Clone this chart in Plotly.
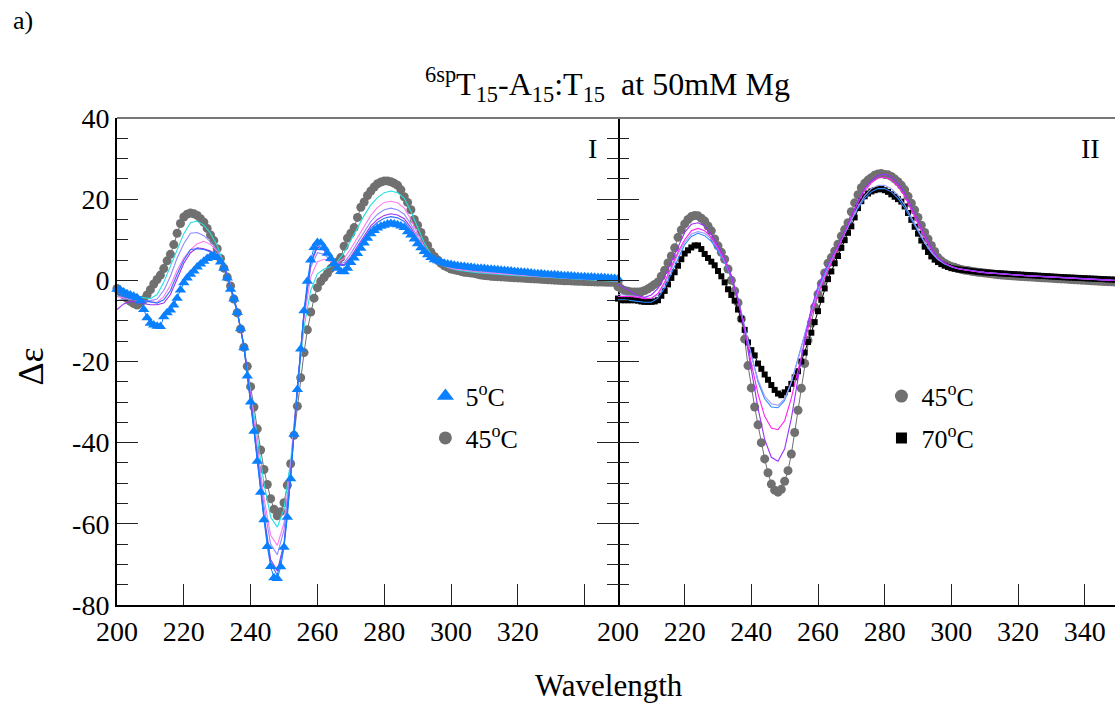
import plotly.graph_objects as go

# Wavelength grids (nm)
wavelength = list(range(200, 351))        # 1 nm sampling for marker series
wavelength_2nm = list(range(200, 351, 2))  # 2 nm sampling for the intermediate temperature curves

# ---------------- Panel I : 5 C -> 45 C ----------------
de_5C = [
    -2.2, -2.4, -2.9, -3.3, -3.6, -3.9, -4.3, -5.0, -7.2, -9.2,
    -10.6, -11.0, -11.3, -11.4, -9.0, -8.0, -7.3, -6.1, -4.4, -2.4,
    -0.6, 0.6, 1.5, 2.3, 3.3, 4.0, 4.7, 5.4, 5.9, 6.1,
    5.6, 4.5, 3.0, 0.6, -2.2, -4.6, -7.9, -11.9, -16.6, -23.6,
    -30.0, -37.2, -44.6, -52.2, -59.0, -65.6, -70.5, -73.3, -73.5, -70.6,
    -65.8, -58.4, -48.9, -37.9, -26.9, -16.9, -7.5, -0.2, 5.0, 8.1,
    9.3, 9.2, 8.0, 6.7, 5.4, 4.1, 3.0, 2.2, 2.1, 3.0,
    4.4, 5.5, 6.6, 7.9, 9.2, 10.4, 11.5, 12.3, 12.9, 13.3,
    13.6, 13.9, 14.0, 13.9, 13.7, 13.4, 13.0, 12.0, 11.2, 10.2,
    9.0, 8.0, 7.1, 6.3, 5.6, 5.1, 4.8, 4.5, 4.2, 4.0,
    3.9, 3.7, 3.6, 3.5, 3.4, 3.3, 3.2, 3.1, 3.0, 2.95,
    2.9, 2.8, 2.75, 2.7, 2.6, 2.5, 2.45, 2.35, 2.3, 2.2,
    2.1, 2.05, 2.0, 1.9, 1.8, 1.7, 1.65, 1.6, 1.5, 1.45,
    1.4, 1.35, 1.3, 1.2, 1.15, 1.1, 1.05, 1.0, 0.95, 0.9,
    0.9, 0.85, 0.8, 0.75, 0.7, 0.7, 0.65, 0.6, 0.5, 0.45,
    0.4,
]

de_45C_I = [
    -2.0, -2.8, -3.6, -4.5, -5.2, -5.7, -6.1, -5.6, -4.8, -3.6,
    -2.3, -0.9, 0.2, 1.3, 2.9, 4.8, 6.4, 8.8, 11.6, 14.0,
    15.6, 16.3, 16.6, 16.4, 16.0, 15.2, 14.3, 12.8, 11.2, 9.8,
    7.8, 5.4, 3.0, 0.8, -1.4, -4.6, -8.0, -12.0, -16.5, -21.2,
    -26.2, -31.2, -36.6, -41.8, -46.6, -50.3, -53.8, -56.4, -58.0, -57.0,
    -54.8, -50.5, -45.2, -38.2, -31.0, -24.0, -17.8, -12.2, -7.8, -4.4,
    -1.8, -0.3, 0.7, 1.7, 2.9, 3.8, 4.5, 5.6, 8.4, 10.4,
    11.6, 13.0, 15.5, 18.0, 19.3, 20.9, 22.0, 23.0, 23.8, 24.2,
    24.5, 24.5, 24.3, 23.9, 23.4, 22.3, 20.6, 19.2, 17.4, 15.0,
    13.6, 11.8, 10.0, 8.6, 7.0, 5.9, 5.0, 4.2, 3.6, 3.2,
    2.8, 2.6, 2.4, 2.2, 2.0, 1.9, 1.8, 1.7, 1.5, 1.3,
    1.2, 1.1, 1.0, 0.95, 0.9, 0.85, 0.8, 0.75, 0.7, 0.65,
    0.6, 0.55, 0.5, 0.45, 0.4, 0.35, 0.3, 0.25, 0.2, 0.15,
    0.1, 0.05, 0.0, -0.05, -0.1, -0.12, -0.15, -0.2, -0.22, -0.25,
    -0.3, -0.32, -0.35, -0.38, -0.4, -0.42, -0.45, -0.48, -0.5, -0.52,
    -0.55,
]

de_10C = [
    -3.5, -4.0, -4.3, -4.8, -5.0, -5.3, -5.6, -4.8, -2.5, 1.5,
    5.0, 7.6, 7.8, 7.6, 7.0, 6.0, 3.6, -1.5, -7.6, -16.2,
    -29.5, -44.0, -58.5, -69.8, -72.6, -65.4, -48.6, -26.8, -7.8, 4.5,
    8.7, 7.6, 5.6, 3.8, 3.6, 5.4, 7.8, 10.4, 12.8, 14.3,
    15.3, 15.7, 15.4, 14.5, 12.4, 9.6, 7.4, 5.6, 4.6, 4.0,
    3.6, 3.3, 3.1, 2.9, 2.75, 2.6, 2.45, 2.3, 2.15, 2.0,
    1.9, 1.8, 1.65, 1.55, 1.45, 1.35, 1.25, 1.15, 1.05, 0.95,
    0.9, 0.8, 0.7, 0.6, 0.5, 0.4,
]

de_15C = [
    -7.2, -5.8, -5.2, -5.5, -5.8, -6.0, -6.0, -5.6, -3.5, 0.5,
    4.2, 6.8, 8.0, 7.8, 7.2, 6.2, 3.8, -1.3, -7.5, -16.0,
    -29.0, -43.5, -57.8, -68.8, -71.6, -64.8, -48.2, -26.6, -8.0, 4.0,
    8.2, 7.4, 5.6, 4.0, 3.9, 5.8, 8.4, 11.0, 13.4, 15.0,
    16.0, 16.4, 16.1, 15.2, 13.0, 10.0, 7.6, 5.7, 4.6, 3.9,
    3.5, 3.2, 2.95, 2.75, 2.6, 2.45, 2.3, 2.15, 2.0, 1.9,
    1.8, 1.65, 1.55, 1.45, 1.35, 1.25, 1.15, 1.05, 0.95, 0.85,
    0.8, 0.7, 0.6, 0.5, 0.4, 0.3,
]

de_20C = [
    -5.0, -4.6, -4.5, -4.8, -5.0, -5.0, -4.6, -2.5, 1.0, 5.5,
    9.0, 11.6, 11.8, 11.0, 9.5, 7.4, 3.8, -1.3, -7.6, -16.2,
    -28.8, -42.5, -55.5, -65.0, -67.6, -61.5, -46.5, -26.0, -8.2, 3.2,
    6.8, 6.4, 5.0, 4.0, 4.4, 6.6, 9.3, 12.0, 14.5, 16.3,
    17.4, 17.8, 17.4, 16.3, 13.8, 10.6, 7.8, 5.6, 4.4, 3.7,
    3.2, 2.9, 2.65, 2.45, 2.3, 2.15, 2.0, 1.85, 1.7, 1.6,
    1.5, 1.4, 1.3, 1.2, 1.1, 1.0, 0.9, 0.8, 0.7, 0.6,
    0.55, 0.45, 0.35, 0.25, 0.15, 0.05,
]

de_30C = [
    -4.0, -4.3, -4.6, -5.0, -5.2, -5.3, -5.4, -4.0, -1.2, 2.5,
    5.5, 7.5, 9.0, 9.6, 8.8, 7.2, 4.0, -1.2, -7.8, -16.6,
    -28.0, -41.0, -53.5, -62.8, -65.3, -59.8, -45.8, -26.4, -9.5, 0.8,
    4.6, 5.2, 4.6, 4.3, 5.4, 7.8, 10.6, 13.4, 16.0, 18.0,
    19.2, 19.5, 19.1, 17.8, 15.0, 11.5, 8.3, 5.8, 4.4, 3.6,
    3.0, 2.7, 2.45, 2.25, 2.1, 1.95, 1.8, 1.65, 1.5, 1.4,
    1.3, 1.2, 1.1, 1.0, 0.9, 0.8, 0.7, 0.6, 0.5, 0.42,
    0.35, 0.25, 0.15, 0.05, -0.05, -0.15,
]

de_40C = [
    -4.0, -3.8, -3.8, -4.0, -4.2, -4.5, -3.5, -0.5, 3.5, 7.5,
    11.5, 14.2, 14.6, 13.6, 11.6, 8.6, 4.0, -1.3, -7.8, -16.3,
    -27.0, -38.6, -50.0, -58.3, -60.8, -56.3, -44.5, -27.0, -11.5, -2.5,
    1.6, 2.8, 3.4, 4.6, 6.8, 9.8, 13.0, 16.0, 18.6, 20.4,
    21.6, 22.0, 21.6, 20.2, 17.0, 13.0, 9.2, 6.4, 4.6, 3.6,
    2.9, 2.5, 2.25, 2.05, 1.9, 1.75, 1.6, 1.45, 1.35, 1.25,
    1.15, 1.05, 0.95, 0.85, 0.75, 0.65, 0.55, 0.45, 0.35, 0.28,
    0.2, 0.1, 0.0, -0.1, -0.2, -0.3,
]

# ---------------- Panel II : 45 C -> 70 C ----------------
de_45C_II = [
    -1.6, -2.1, -2.5, -2.7, -2.9, -2.9, -2.9, -2.8, -2.5, -2.1,
    -1.6, -1.0, -0.4, 1.0, 2.5, 4.3, 6.0, 8.0, 10.6, 12.4,
    13.9, 15.0, 15.7, 16.0, 15.9, 15.3, 14.6, 13.4, 12.2, 10.2,
    8.5, 6.9, 5.2, 2.8, 0.0, -2.6, -5.5, -9.5, -14.5, -21.0,
    -26.5, -31.2, -35.6, -40.0, -44.0, -47.4, -50.2, -51.7, -52.2, -51.5,
    -49.5, -46.9, -42.8, -37.5, -32.0, -26.6, -20.5, -14.8, -10.5, -6.6,
    -3.4, -0.8, 1.8, 4.2, 5.6, 7.2, 8.9, 10.9, 12.5, 14.2,
    16.9, 19.1, 21.1, 22.8, 23.9, 24.7, 25.3, 25.9, 26.2, 26.3,
    26.1, 26.0, 25.6, 25.0, 24.3, 23.4, 22.3, 20.7, 19.0, 17.3,
    15.5, 13.6, 11.8, 10.2, 8.6, 7.1, 5.6, 4.8, 4.2, 3.8,
    3.4, 3.2, 2.9, 2.7, 2.5, 2.4, 2.25, 2.1, 2.0, 1.9,
    1.8, 1.7, 1.6, 1.5, 1.4, 1.3, 1.25, 1.2, 1.1, 1.05,
    1.0, 0.95, 0.9, 0.85, 0.8, 0.75, 0.7, 0.65, 0.6, 0.55,
    0.5, 0.45, 0.4, 0.35, 0.3, 0.25, 0.2, 0.15, 0.1, 0.05,
    0.0, -0.05, -0.1, -0.15, -0.2, -0.25, -0.3, -0.33, -0.36, -0.4,
    -0.43,
]

de_70C = [
    -4.5, -4.9, -4.9, -4.9, -4.9, -4.9, -5.0, -5.2, -5.3, -5.3,
    -5.3, -5.2, -4.9, -3.8, -2.6, -1.0, 0.6, 2.0, 3.6, 5.2,
    6.6, 7.4, 8.1, 8.6, 8.6, 7.7, 6.5, 5.5, 4.6, 3.7,
    2.3, 1.0, -0.5, -2.2, -3.6, -5.0, -7.2, -9.5, -12.2, -15.3,
    -17.2, -18.5, -20.5, -21.8, -23.2, -24.5, -25.8, -27.0, -27.9, -28.3,
    -27.6, -26.8, -25.5, -23.9, -22.4, -20.0, -17.8, -15.2, -12.9, -10.3,
    -7.6, -4.8, -2.0, 0.3, 2.2, 4.2, 6.0, 8.0, 9.9, 11.7,
    13.3, 15.5, 17.8, 19.5, 20.7, 21.4, 21.9, 22.2, 22.4, 22.5,
    22.2, 21.8, 21.2, 20.6, 20.0, 19.4, 18.2, 16.6, 14.9, 13.2,
    11.5, 9.8, 8.3, 7.0, 5.9, 5.1, 4.5, 4.0, 3.6, 3.3,
    3.0, 2.85, 2.7, 2.6, 2.5, 2.4, 2.3, 2.2, 2.1, 2.0,
    1.95, 1.9, 1.85, 1.8, 1.75, 1.7, 1.65, 1.6, 1.55, 1.5,
    1.45, 1.4, 1.35, 1.3, 1.25, 1.2, 1.15, 1.1, 1.05, 1.0,
    0.95, 0.9, 0.85, 0.8, 0.76, 0.72, 0.68, 0.64, 0.6, 0.56,
    0.52, 0.48, 0.44, 0.4, 0.36, 0.32, 0.28, 0.24, 0.2, 0.16,
    0.12,
]

de_50C = [
    -1.0, -2.0, -2.8, -3.8, -4.2, -3.6, -2.0, 1.0, 4.6, 8.4,
    11.8, 13.8, 14.2, 13.4, 11.4, 8.6, 5.4, 1.2, -4.6, -12.6,
    -22.0, -31.5, -39.2, -43.6, -44.6, -41.5, -34.0, -24.0, -14.5, -7.0,
    -1.5, 2.4, 5.4, 8.6, 12.0, 15.8, 19.6, 22.6, 24.6, 25.8,
    26.2, 25.6, 24.0, 21.6, 18.4, 14.8, 11.2, 8.0, 5.6, 4.2,
    3.4, 2.9, 2.6, 2.35, 2.15, 1.95, 1.8, 1.65, 1.5, 1.4,
    1.3, 1.2, 1.1, 1.0, 0.9, 0.8, 0.7, 0.6, 0.5, 0.45,
    0.4, 0.3, 0.2, 0.1, 0.05, 0.0,
]

de_55C = [
    -4.0, -4.0, -4.0, -4.2, -4.5, -4.4, -3.2, -0.4, 3.4, 7.0,
    10.0, 12.2, 12.8, 12.2, 10.6, 8.0, 5.0, 1.0, -4.8, -12.2,
    -20.5, -28.0, -33.5, -36.4, -36.8, -34.6, -29.0, -22.0, -15.0, -8.6,
    -3.4, 0.6, 4.4, 8.0, 11.8, 15.6, 19.2, 22.0, 24.0, 25.2,
    25.4, 24.8, 23.2, 20.8, 17.6, 14.0, 10.6, 7.6, 5.5, 4.2,
    3.4, 2.85, 2.55, 2.3, 2.1, 1.9, 1.75, 1.6, 1.45, 1.35,
    1.25, 1.15, 1.05, 0.95, 0.85, 0.75, 0.65, 0.55, 0.45, 0.4,
    0.35, 0.25, 0.15, 0.05, 0.0, -0.05,
]

de_60C = [
    -3.5, -3.6, -3.8, -4.0, -4.3, -4.4, -3.6, -1.0, 2.8, 6.4,
    9.4, 11.4, 12.0, 11.6, 10.2, 7.8, 4.8, 1.0, -4.4, -11.4,
    -18.6, -24.5, -28.5, -30.4, -30.8, -29.2, -25.0, -19.4, -13.2, -7.6,
    -2.8, 1.2, 4.8, 8.2, 11.6, 15.0, 18.2, 20.8, 22.6, 23.4,
    23.4, 22.6, 21.0, 18.6, 15.6, 12.4, 9.4, 7.0, 5.2, 4.1,
    3.4, 2.9, 2.6, 2.35, 2.15, 1.95, 1.8, 1.65, 1.5, 1.4,
    1.3, 1.2, 1.1, 1.0, 0.9, 0.8, 0.7, 0.6, 0.5, 0.45,
    0.4, 0.3, 0.2, 0.1, 0.05, 0.0,
]

de_65C = [
    -4.8, -4.8, -5.0, -5.2, -5.4, -5.4, -4.4, -1.8, 1.8, 5.6,
    8.8, 10.8, 11.6, 11.0, 9.6, 7.2, 4.4, 0.6, -4.6, -11.4,
    -18.6, -25.0, -29.2, -31.2, -31.4, -29.6, -25.2, -19.6, -13.4, -7.4,
    -2.4, 1.6, 5.0, 8.4, 11.6, 14.8, 17.8, 20.2, 21.8, 22.6,
    22.6, 21.8, 20.2, 17.9, 15.0, 12.0, 9.2, 6.8, 5.1, 4.0,
    3.3, 2.85, 2.55, 2.3, 2.1, 1.9, 1.75, 1.6, 1.45, 1.35,
    1.25, 1.15, 1.05, 0.95, 0.85, 0.75, 0.65, 0.55, 0.45, 0.4,
    0.35, 0.25, 0.15, 0.05, 0.0, -0.05,
]

FONT = "Liberation Serif"
BLUE = "#0B80FF"
GREY = "#707070"
BLACK = "#000000"

fig = go.Figure()


def add_curve(x, y, xa, ya, color, width=1.1):
    fig.add_trace(go.Scatter(x=x, y=y, xaxis=xa, yaxis=ya, mode="lines",
                             line=dict(color=color, width=width),
                             showlegend=False, hoverinfo="skip"))


def add_marker_series(x, y, xa, ya, symbol, size, color):
    add_curve(x, y, xa, ya, color, width=1)
    fig.add_trace(go.Scatter(x=x, y=y, xaxis=xa, yaxis=ya, mode="markers",
                             marker=dict(symbol=symbol, size=size, color=color,
                                         line=dict(width=0)),
                             cliponaxis=False, showlegend=False, hoverinfo="skip"))


def add_legend_entry(name, symbol, size, color, legend, group):
    fig.add_trace(go.Scatter(x=[None], y=[None], mode="markers", name=name,
                             marker=dict(symbol=symbol, size=size, color=color),
                             legend=legend, legendgroup=group, showlegend=True))


# Panel I: 45 C underneath, intermediate curves, 5 C on top
add_marker_series(wavelength, de_45C_I, "x", "y", "circle", 9, GREY)
add_curve(wavelength_2nm, de_40C, "x", "y", "#22E0E0")
add_curve(wavelength_2nm, de_30C, "x", "y", "#FF7CF0")
add_curve(wavelength_2nm, de_20C, "x", "y", "#8C8CFF")
add_curve(wavelength_2nm, de_15C, "x", "y", "#9A32F0")
add_curve(wavelength_2nm, de_10C, "x", "y", "#2F6FFF")
add_marker_series(wavelength, de_5C, "x", "y", "triangle-up", 10, BLUE)

# Panel II: 45 C, 70 C, then intermediate curves on top
add_marker_series(wavelength, de_45C_II, "x2", "y2", "circle", 9, GREY)
add_marker_series(wavelength, de_70C, "x2", "y2", "square", 6, BLACK)
add_curve(wavelength_2nm, de_65C, "x2", "y2", "#2F8CFF")
add_curve(wavelength_2nm, de_60C, "x2", "y2", "#9C9CFF")
add_curve(wavelength_2nm, de_55C, "x2", "y2", "#FF22F0")
add_curve(wavelength_2nm, de_50C, "x2", "y2", "#9B30FF")

add_legend_entry("5<sup>o</sup>C", "triangle-up", 15, BLUE, "legend", "a")
add_legend_entry("45<sup>o</sup>C", "circle", 13, GREY, "legend", "b")
add_legend_entry("45<sup>o</sup>C", "circle", 13, GREY, "legend2", "c")
add_legend_entry("70<sup>o</sup>C", "square", 11, BLACK, "legend2", "d")

x_ticks = list(range(200, 341, 20))
y_ticks = list(range(-80, 41, 20))
split = (618 - 117) / (1115 - 117)

tick_font = dict(family=FONT, size=28, color=BLACK)
axis_common = dict(showgrid=False, zeroline=False, linecolor=BLACK,
                   linewidth=2, ticks="inside", ticklen=21, tickwidth=1,
                   tickcolor="#222222", tickfont=tick_font)
minor_ticks = dict(tickvals=list(range(-80, 41, 5)), ticklen=11,
                   ticks="inside", tickcolor="#222222", tickwidth=1)

fig.update_layout(
    width=1115, height=704,
    margin=dict(l=117, r=0, t=118, b=99),
    paper_bgcolor="white", plot_bgcolor="white",
    font=dict(family=FONT, color=BLACK),
    xaxis=dict(domain=[0, split], range=[200, 350], tickmode="array",
               tickvals=x_ticks, ticktext=[str(v) for v in x_ticks[:-1]] + [""],
               ticklabelstandoff=0, anchor="y", showline=True, **axis_common),
    xaxis2=dict(domain=[split, 1], range=[200, 349.1], tickmode="array",
                tickvals=x_ticks, ticktext=[str(v) for v in x_ticks],
                ticklabelstandoff=0, anchor="y2", showline=True, **axis_common),
    yaxis=dict(range=[-80, 40], tickmode="array", tickvals=y_ticks,
               ticktext=[str(v) for v in y_ticks], mirror="ticks", anchor="x",
               showline=True, minor=minor_ticks, **axis_common),
    yaxis2=dict(range=[-80, 40], tickmode="array", tickvals=y_ticks,
                showticklabels=False, anchor="x2", showline=False,
                minor=minor_ticks, **axis_common),
    legend=dict(x=0.309, y=0.477, xanchor="left", yanchor="top",
                font=dict(family=FONT, size=26, color=BLACK),
                bgcolor="rgba(0,0,0,0)", tracegroupgap=5, itemwidth=30),
    legend2=dict(x=0.766, y=0.477, xanchor="left", yanchor="top",
                 font=dict(family=FONT, size=26, color=BLACK),
                 bgcolor="rgba(0,0,0,0)", tracegroupgap=5, itemwidth=30),
    shapes=[dict(type="line", xref="paper", yref="paper", x0=0, x1=1, y0=1, y1=1,
                 line=dict(color="#777777", width=2))],
    annotations=[
        dict(text="a)", xref="paper", yref="paper", x=-0.106, y=1.2,
             xanchor="left", yanchor="middle", showarrow=False,
             font=dict(family=FONT, size=26)),
        dict(text="<sup>6sp</sup>T<sub>15</sub>-A<sub>15</sub>:T<sub>15</sub>&nbsp;&nbsp;at 50mM Mg",
             xref="paper", yref="paper", x=0.491, y=1.068, xanchor="center",
             yanchor="middle", showarrow=False, font=dict(family=FONT, size=32)),
        dict(text="I", xref="x", yref="y", x=342.5, y=32.5, showarrow=False,
             font=dict(family=FONT, size=28)),
        dict(text="II", xref="x2", yref="y2", x=341.8, y=32.5, showarrow=False,
             font=dict(family=FONT, size=28)),
        dict(text="Δε", xref="paper", yref="paper", x=-0.086, y=0.49,
             textangle=-90, showarrow=False, xanchor="center", yanchor="middle",
             font=dict(family=FONT, size=36)),
        dict(text="Wavelength", xref="paper", yref="paper", x=0.493, y=-0.166,
             xanchor="center", yanchor="middle", showarrow=False,
             font=dict(family=FONT, size=31)),
    ],
)

fig.write_html("out.html")
